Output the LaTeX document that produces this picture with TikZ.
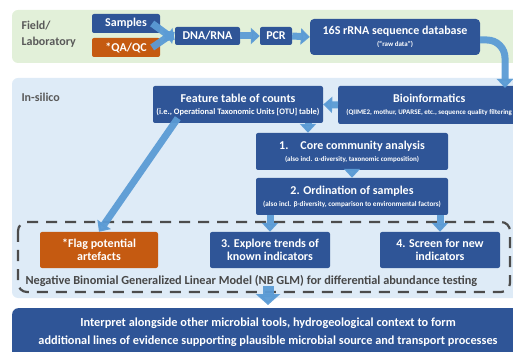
\documentclass[tikz,border=0pt]{standalone}
\usepackage{fontspec}
\setmainfont{Carlito}
\usetikzlibrary{arrows.meta}
\definecolor{boxblue}{HTML}{2F5597}
\definecolor{boxorange}{HTML}{C55A11}
\definecolor{flowblue}{HTML}{5B9BD5}
\definecolor{labpanel}{HTML}{E2F0D9}
\definecolor{silpanel}{HTML}{DEEBF7}
\definecolor{darkgray}{HTML}{595959}

\begin{document}
\begin{tikzpicture}[x=1pt,y=-1pt,
  box/.style={fill=boxblue, text=white, font=\bfseries\fontsize{12}{13}\selectfont,
    rounded corners=2pt, align=center, inner sep=0pt},
  qbox/.style={box, fill=boxorange},
  flow/.style={draw=flowblue, opacity=0.95, line width=7pt,
    -{Triangle[width=16pt,length=9pt]}},
  bigflow/.style={flow, line width=11pt, -{Triangle[width=24pt,length=11pt]}},
  panel/.style={rounded corners=6pt, draw=none}]
  \useasboundingbox (0,0) rectangle (513,352);
  \clip (0,0) rectangle (513,352);

  \fill[panel, fill=labpanel] (12,10) rectangle (530,63);
  \fill[panel, fill=silpanel] (12,78) rectangle (530,298);

  \node[text=darkgray, font=\bfseries\fontsize{12}{16}\selectfont, align=left, anchor=west] (lab) at (18,34) {Field/\\Laboratory};
  \node[text=darkgray, font=\bfseries\fontsize{12}{14}\selectfont, anchor=west] (sil) at (18,97) {In-silico};

  \node[box, minimum width=68, minimum height=19] (samples) at (126,23.5) {Samples};
  \node[qbox, minimum width=68, minimum height=19] (qaqc) at (126,47.5) {*QA/QC};
  \node[box, minimum width=65, minimum height=18] (dna) at (207.5,36) {DNA/RNA};
  \node[box, minimum width=32, minimum height=18] (pcr) at (276,36) {PCR};
  \node[box, rounded corners=4pt, minimum width=170, minimum height=36] (seqdb) at (395,37)
    {16S rRNA sequence database\\[-1pt]{\fontsize{7}{7}\selectfont (``raw data'')}};

  \node[box, minimum width=170, minimum height=37] (feat) at (238,104.5)
    {Feature table of counts\\[-1pt]{\fontsize{8.4}{8}\selectfont (i.e., Operational Taxonomic Units [OTU] table)}};
  \node[box, minimum width=182, minimum height=38, anchor=west] (bioinf) at (338,105)
    {Bioinformatics\\[-1pt]{\fontsize{7}{7}\selectfont (QIIME2, mothur, UPARSE, etc., sequence quality filtering}};
  \node[box, minimum width=192, minimum height=37] (core) at (352,151.5)
    {1.\quad Core community analysis\\[-1pt]{\fontsize{7}{7}\selectfont (also incl. α-diversity, taxonomic composition)}};
  \node[box, minimum width=192, minimum height=37] (ord) at (352,196.5)
    {2. Ordination of samples\\[-1pt]{\fontsize{7.2}{7}\selectfont (also incl. β-diversity, comparison to environmental factors)}};

  \draw[darkgray!85!black, line width=2.2pt, dash pattern=on 11pt off 8pt, rounded corners=9pt]
    (18,222) rectangle (510,292);

  \node[qbox, minimum width=118, minimum height=36] (flag) at (99,250) {*Flag potential\\artefacts};
  \node[box, minimum width=120, minimum height=36] (explore) at (270,250) {3. Explore trends of\\known indicators};
  \node[box, minimum width=120, minimum height=36] (screen) at (440,250) {4. Screen for new\\indicators};
  \node[text=darkgray!80!black, font=\bfseries\fontsize{12.3}{13}\selectfont, anchor=west] (nbglm) at (22,281)
    {Negative Binomial Generalized Linear Model (NB GLM) for differential abundance testing};

  \node[box, rounded corners=6pt, minimum width=513, minimum height=52, anchor=north west] (final) at (12,308) {};
  \node[text=white, font=\bfseries\fontsize{12.3}{18}\selectfont, align=center] (finaltxt) at (268,332)
    {Interpret alongside other microbial tools, hydrogeological context to form\\
     additional lines of evidence supporting plausible microbial source and transport processes};

  \coordinate (bin) at (505,88);
  \coordinate (nbout) at (268,286);

  \draw[flow] ([xshift=-8]samples.east) -- ([yshift=-4]dna.west);
  \draw[flow] ([xshift=-8]qaqc.east) -- ([yshift=4]dna.west);
  \draw[flow] (dna.east) -- (pcr.west);
  \draw[flow] (pcr.east) -- (seqdb.west);
  \draw[flow, rounded corners=18pt] ([yshift=-3]seqdb.east) -| (bin);
  \draw[flow] (bioinf.west) -- (feat.east);
  \draw[flow] ([xshift=70]feat.south) -- ([xshift=-44]core.north);
  \draw[flow] (core.south) -- (ord.north);
  \draw[flow] ([shift={(25,-5)}]feat.south west) -- (flag.north);
  \draw[flow] (ord.south -| explore.north) -- (explore.north);
  \draw[flow] (ord.south -| screen.north) -- (screen.north);
  \draw[bigflow] (nbout) -- ([yshift=3]final.north -| nbout);
\end{tikzpicture}
\end{document}
